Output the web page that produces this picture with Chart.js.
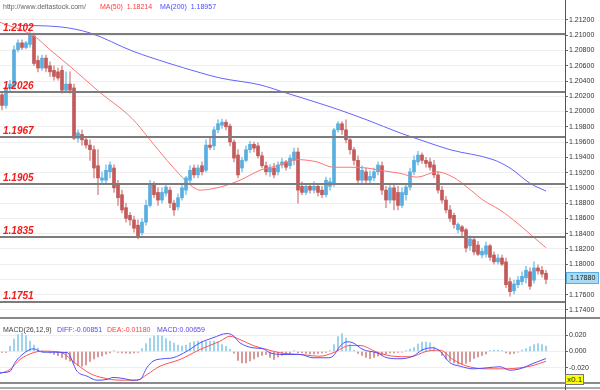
<!DOCTYPE html>
<html>
<head>
<meta charset="utf-8">
<script src="https://cdn.jsdelivr.net/npm/chart.js@4.4.0/dist/chart.umd.min.js"></script>
<style>
  body { margin:0; background:#fff; width:600px; height:390px; overflow:hidden; position:relative; font-family:"Liberation Sans", Arial, sans-serif; }
  canvas { position:absolute; left:0; }
  #main { top:0; }
  #macd { top:320px; }
  .sep { position:absolute; left:0; width:600px; height:2px; }
  #vline { position:absolute; left:565px; top:0; width:1px; height:390px; background:#555; }
  #xbox { position:absolute; left:565px; top:374px; height:9px; line-height:9px; padding:0 1px; font-size:8px; background:#ffff00; border:1px solid #777; color:#222; }
</style>
</head>
<body>
<canvas id="main" width="600" height="318"></canvas>
<canvas id="macd" width="600" height="63"></canvas>
<div class="sep" style="top:317px;background:#888"></div>
<div class="sep" style="top:382px;background:#8a8a8a"></div>
<div class="sep" style="top:387px;background:#aaa"></div>
<div id="vline"></div>
<div id="xbox">x0.1</div>
<script>
// EUR/USD candles, one per slot
var opens = [1.2022,1.2008,1.2031,1.2033,1.2081,1.2090,1.2084,1.2088,1.2099,1.2067,
  1.2057,1.2070,1.2060,1.2054,1.2052,1.2054,1.2028,1.2036,1.2031,1.1965,
  1.1970,1.1963,1.1956,1.1950,1.1929,1.1910,1.1910,1.1921,1.1926,1.1904,
  1.1891,1.1874,1.1864,1.1858,1.1851,1.1841,1.1855,1.1877,1.1904,1.1894,
  1.1884,1.1893,1.1897,1.1880,1.1875,1.1887,1.1897,1.1910,1.1926,1.1917,
  1.1929,1.1923,1.1956,1.1955,1.1976,1.1982,1.1986,1.1981,1.1960,1.1943,
  1.1926,1.1936,1.1950,1.1957,1.1955,1.1942,1.1929,1.1921,1.1926,1.1921,
  1.1930,1.1934,1.1929,1.1936,1.1947,1.1902,1.1894,1.1902,1.1897,1.1902,
  1.1897,1.1891,1.1902,1.1906,1.1976,1.1984,1.1976,1.1963,1.1950,1.1936,
  1.1910,1.1921,1.1910,1.1913,1.1921,1.1929,1.1897,1.1884,1.1900,1.1894,
  1.1877,1.1891,1.1901,1.1921,1.1934,1.1943,1.1936,1.1934,1.1930,1.1917,
  1.1897,1.1884,1.1871,1.1864,1.1845,1.1849,1.1845,1.1824,1.1832,1.1825,
  1.1812,1.1813,1.1824,1.1812,1.1803,1.1808,1.1803,1.1777,1.1765,1.1773,
  1.1777,1.1782,1.1790,1.1779,1.1795,1.1792,1.1788];
var closes = [1.2008,1.2031,1.2036,1.2081,1.2090,1.2084,1.2090,1.2100,1.2063,1.2057,
  1.2070,1.2057,1.2052,1.2046,1.2044,1.2028,1.2036,1.2028,1.1965,1.1972,
  1.1963,1.1956,1.1950,1.1926,1.1913,1.1913,1.1923,1.1930,1.1900,1.1887,
  1.1871,1.1860,1.1858,1.1847,1.1837,1.1855,1.1877,1.1905,1.1891,1.1884,
  1.1894,1.1901,1.1880,1.1871,1.1887,1.1900,1.1913,1.1923,1.1917,1.1926,
  1.1921,1.1956,1.1953,1.1976,1.1984,1.1986,1.1980,1.1960,1.1939,1.1917,
  1.1936,1.1950,1.1957,1.1952,1.1942,1.1929,1.1921,1.1926,1.1917,1.1930,
  1.1934,1.1927,1.1939,1.1947,1.1897,1.1894,1.1902,1.1897,1.1902,1.1894,
  1.1891,1.1910,1.1908,1.1976,1.1984,1.1976,1.1963,1.1950,1.1936,1.1910,
  1.1923,1.1910,1.1915,1.1921,1.1930,1.1897,1.1884,1.1900,1.1884,1.1877,
  1.1894,1.1901,1.1921,1.1936,1.1943,1.1936,1.1932,1.1927,1.1917,1.1897,
  1.1884,1.1871,1.1860,1.1852,1.1852,1.1843,1.1821,1.1833,1.1816,1.1813,
  1.1817,1.1824,1.1809,1.1803,1.1808,1.1800,1.1773,1.1764,1.1774,1.1779,
  1.1784,1.1792,1.1771,1.1795,1.1791,1.1787,1.1780];
var highs = [1.2026,1.2035,1.2041,1.2086,1.2094,1.2094,1.2092,1.2105,1.2103,1.2073,
  1.2074,1.2074,1.2065,1.2060,1.2057,1.2060,1.2052,1.2052,1.2036,1.1976,
  1.1976,1.1967,1.1963,1.1955,1.1950,1.1921,1.1930,1.1934,1.1930,1.1910,
  1.1897,1.1880,1.1868,1.1863,1.1858,1.1860,1.1884,1.1910,1.1908,1.1900,
  1.1900,1.1906,1.1901,1.1884,1.1892,1.1906,1.1915,1.1929,1.1930,1.1930,
  1.1934,1.1963,1.1965,1.1980,1.1989,1.1990,1.1989,1.1984,1.1963,1.1950,
  1.1940,1.1955,1.1961,1.1960,1.1959,1.1947,1.1934,1.1930,1.1932,1.1934,
  1.1939,1.1936,1.1943,1.1952,1.1952,1.1908,1.1906,1.1906,1.1908,1.1906,
  1.1902,1.1914,1.1913,1.1978,1.1987,1.1987,1.1989,1.1967,1.1953,1.1942,
  1.1929,1.1926,1.1922,1.1926,1.1934,1.1934,1.1902,1.1905,1.1904,1.1902,
  1.1900,1.1905,1.1926,1.1942,1.1948,1.1946,1.1940,1.1939,1.1936,1.1921,
  1.1902,1.1889,1.1877,1.1867,1.1854,1.1851,1.1847,1.1837,1.1834,1.1830,
  1.1821,1.1829,1.1826,1.1816,1.1813,1.1812,1.1808,1.1782,1.1779,1.1784,
  1.1790,1.1797,1.1795,1.1803,1.1799,1.1797,1.1792];
var lows = [1.2002,1.2004,1.2026,1.2031,1.2078,1.2081,1.2082,1.2084,1.2060,1.2052,
  1.2054,1.2052,1.2046,1.2041,1.2041,1.2024,1.2026,1.2024,1.1963,1.1960,
  1.1956,1.1952,1.1936,1.1913,1.1891,1.1904,1.1906,1.1913,1.1894,1.1877,
  1.1867,1.1855,1.1851,1.1842,1.1833,1.1838,1.1851,1.1875,1.1887,1.1877,
  1.1880,1.1889,1.1874,1.1864,1.1871,1.1884,1.1891,1.1906,1.1913,1.1913,
  1.1917,1.1921,1.1950,1.1950,1.1972,1.1978,1.1976,1.1955,1.1934,1.1913,
  1.1921,1.1934,1.1946,1.1947,1.1939,1.1926,1.1917,1.1915,1.1913,1.1917,
  1.1926,1.1923,1.1925,1.1930,1.1880,1.1891,1.1891,1.1893,1.1893,1.1889,
  1.1887,1.1888,1.1897,1.1902,1.1973,1.1970,1.1959,1.1944,1.1930,1.1906,
  1.1906,1.1906,1.1906,1.1909,1.1917,1.1891,1.1874,1.1880,1.1871,1.1871,
  1.1874,1.1884,1.1897,1.1917,1.1930,1.1932,1.1927,1.1923,1.1913,1.1893,
  1.1880,1.1867,1.1856,1.1847,1.1841,1.1837,1.1816,1.1818,1.1812,1.1811,
  1.1808,1.1809,1.1805,1.1800,1.1800,1.1798,1.1769,1.1758,1.1761,1.1769,
  1.1773,1.1775,1.1767,1.1775,1.1787,1.1783,1.1774];

// moving averages (slot, price)
var ma50X = [-0.5,8.25,12,17.5,24.5,32.5,37,41.25,44.5,47,49.5,54.5,59.5,64.5,69.5,73.75,78.75,82.75,87,91.25,94.5,99.5,103.75,108.75,112.75,116.25,120.25,124.5,128.75,132.75,136];
var ma50Y = [1.2117,1.2098,1.2081,1.2057,1.2025,1.1991,1.1963,1.1936,1.1917,1.1904,1.1897,1.1901,1.1910,1.1923,1.1930,1.1937,1.1934,1.1927,1.1927,1.1926,1.1923,1.1919,1.1914,1.1921,1.1914,1.1901,1.1884,1.1871,1.1854,1.1836,1.18214];
var ma200X = [4,14.5,22,32.75,41.25,49.5,54.5,64.5,71.25,82.75,91.25,99.5,104.5,112,122.75,127,132,136];
var ma200Y = [1.2113,1.2111,1.2103,1.2079,1.2064,1.2051,1.2044,1.2035,1.2024,1.2005,1.1989,1.1972,1.1963,1.1950,1.1937,1.1926,1.1906,1.18957];

// MACD(26,12,9)
var diffX = [-0.5,2,3.25,5,7,7.75,10.25,16.25,18.75,21.25,23.75,26.25,27.75,30.25,32.75,34.5,36.25,37.75,40.25,42.75,46.25,49.5,52.75,56.25,57.75,59.5,62.75,65.25,67,70.25,74.5,77.75,81.25,82.75,84.5,86.25,87.75,90.25,93.75,96.25,99.5,102.75,105.25,107.75,109.5,112,114.5,117.75,121.25,124.5,127,129.5,132.75,136];
var diffY = [-0.0258,-0.0240,-0.0133,-0.0040,0.0024,0.0033,-0.0008,-0.0012,-0.0239,-0.0299,-0.0348,-0.0339,-0.0315,-0.0327,-0.0348,-0.0339,-0.0194,-0.0118,-0.0088,-0.0076,0.0004,0.0105,0.0166,0.0218,0.0194,0.0105,0.0045,0.0033,-0.0016,-0.0036,-0.0036,-0.0076,-0.0076,-0.0057,0.0064,0.0118,0.0105,0.0024,-0.0016,-0.0076,-0.0088,-0.0057,0.0024,0.0045,0.0004,-0.0137,-0.0178,-0.0210,-0.0198,-0.0185,-0.0227,-0.0210,-0.0145,-0.00851];
var deaX = [-0.5,2,4.5,7.75,10.25,14.5,18.75,22,25.25,29.5,33.75,36.25,39.5,44.5,49.5,54.5,57,59.5,62.75,66.25,69.5,74.5,79.5,82.75,87,89.5,93.75,97.75,102,106.25,109.5,112.75,116.25,121.25,126.25,129.5,132.75,136];
var deaY = [-0.0267,-0.0218,-0.0097,-0.0016,0.0004,-0.0008,-0.0158,-0.0267,-0.0319,-0.0348,-0.0348,-0.0279,-0.0178,-0.0097,0.0024,0.0125,0.0185,0.0145,0.0073,0.0024,-0.0016,-0.0036,-0.0057,-0.0016,0.0073,0.0073,-0.0008,-0.0057,-0.0064,0.0004,0.0016,-0.0097,-0.0178,-0.0210,-0.0210,-0.0198,-0.0170,-0.0118];
var macdHist = [-0.0010,-0.0010,0.0064,0.0150,0.0206,0.0224,0.0194,0.0125,0.0079,0.0042,
  0.0012,-0.0006,-0.0016,-0.0036,-0.0052,-0.0073,-0.0097,-0.0118,-0.0145,-0.0170,
  -0.0178,-0.0164,-0.0121,-0.0091,-0.0067,-0.0055,-0.0030,-0.0016,0.0012,-0.0012,
  -0.0018,-0.0021,-0.0024,-0.0018,-0.0012,0.0036,0.0097,0.0164,0.0188,0.0194,
  0.0188,0.0158,0.0125,0.0103,0.0079,0.0067,0.0079,0.0105,0.0121,0.0125,
  0.0125,0.0121,0.0127,0.0125,0.0115,0.0085,0.0064,0.0030,-0.0020,-0.0109,
  -0.0137,-0.0137,-0.0115,-0.0091,-0.0067,-0.0048,-0.0036,-0.0073,-0.0097,-0.0067,
  -0.0048,-0.0036,-0.0024,0.0012,-0.0016,-0.0018,-0.0024,-0.0030,-0.0030,-0.0024,
  -0.0018,-0.0012,0.0012,0.0085,0.0182,0.0218,0.0164,0.0085,0.0018,-0.0024,
  -0.0048,-0.0073,-0.0088,-0.0073,-0.0055,-0.0040,-0.0030,-0.0016,-0.0016,-0.0012,
  -0.0008,0.0012,0.0030,0.0048,0.0091,0.0115,0.0115,0.0105,0.0055,0.0018,
  -0.0048,-0.0091,-0.0115,-0.0139,-0.0155,-0.0158,-0.0145,-0.0121,-0.0085,-0.0067,
  -0.0048,-0.0030,0.0012,0.0018,0.0018,0.0012,-0.0018,-0.0028,-0.0024,-0.0008,
  0.0018,0.0036,0.0061,0.0085,0.0097,0.0085,0.00659];

var priceTicks = [1.174,1.176,1.178,1.180,1.182,1.184,1.186,1.188,1.190,1.192,1.194,1.196,1.198,1.200,1.202,1.204,1.206,1.208,1.210,1.212];
var macdTicks = [-0.02,0,0.02];
var levels = [1.2102,1.2026,1.1967,1.1905,1.1835,1.1751];
var lastPriceText = '1.17880';

var upBody = '#58aee0', upWick = '#8ecbec', downBody = '#c35959', downWick = '#dc9c9c';
var fnt = '"Liberation Sans", Arial, sans-serif';

function isUp(i) { return closes[i] >= opens[i]; }

var xScale = { type:'linear', min:-0.5, max:140.75, display:false, offset:false };

function rightAxis(min, max, tickVals, digits) {
  return {
    position:'right', min:min, max:max,
    afterBuildTicks: function(s) { s.ticks = tickVals.map(function(v){ return {value:v}; }); },
    afterFit: function(s) { s.width = 35; s.paddingTop = 0; s.paddingBottom = 0; },
    ticks: { callback: function(v){ return Number(v).toFixed(digits); }, font:{ size:7, family:fnt }, color:'#333', padding:1 },
    grid: { color:'#efefef', tickColor:'#666', tickLength:3 },
    border: { color:'#555' }
  };
}

var levelPlugin = {
  id:'levels',
  afterDatasetsDraw: function(chart) {
    var ctx = chart.ctx, a = chart.chartArea, y = chart.scales.y;
    ctx.save();
    levels.forEach(function(v) {
      var py = Math.round(y.getPixelForValue(v));
      ctx.fillStyle = '#7c7c7c';
      ctx.fillRect(a.left, py - 1, a.right - a.left, 2);
      ctx.font = 'italic bold 10px ' + fnt;
      ctx.fillStyle = '#ee1c1c';
      ctx.textBaseline = 'alphabetic';
      ctx.fillText(v.toFixed(4), 3, py - 3);
    });
    ctx.restore();
  },
  afterDraw: function(chart) {
    var ctx = chart.ctx, y = chart.scales.y;
    ctx.save();
    ctx.font = '7px ' + fnt;
    ctx.textBaseline = 'alphabetic';
    ctx.fillStyle = '#666';
    ctx.fillText('http://www.deltastock.com/', 3, 9);
    ctx.fillStyle = '#ff3c3c';
    ctx.fillText('MA(50)  ' + ma50Y[ma50Y.length - 1].toFixed(5), 100, 9);
    ctx.fillStyle = '#4a4aff';
    ctx.fillText('MA(200)  ' + ma200Y[ma200Y.length - 1].toFixed(5), 160, 9);
    // last price box
    var py = Math.round(y.getPixelForValue(1.1782));
    ctx.fillStyle = '#a9daf3';
    ctx.fillRect(566, py - 6, 33, 12);
    ctx.strokeStyle = '#5aaee0';
    ctx.strokeRect(566.5, py - 5.5, 32, 11);
    ctx.fillStyle = '#222';
    ctx.font = '7px ' + fnt;
    ctx.textBaseline = 'middle';
    ctx.fillText(lastPriceText, 570, py + 0.5);
    ctx.restore();
  }
};

new Chart(document.getElementById('main'), {
  type:'bar',
  data: {
    datasets: [
      { type:'line', data: ma50X.map(function(x,k){ return {x:x, y:ma50Y[k]}; }), borderColor:'#ff7676', borderWidth:1, pointRadius:0, cubicInterpolationMode:'monotone', order:0 },
      { type:'line', data: ma200X.map(function(x,k){ return {x:x, y:ma200Y[k]}; }), borderColor:'#6464ff', borderWidth:1, pointRadius:0, cubicInterpolationMode:'monotone', order:0 },
      { data: opens.map(function(o,i){ return {x:i, y:[lows[i], highs[i]]}; }), backgroundColor: opens.map(function(o,i){ return isUp(i) ? upWick : downWick; }), barThickness:1, grouped:false, order:2 },
      { data: opens.map(function(o,i){ return {x:i, y:[o, closes[i]]}; }), backgroundColor: opens.map(function(o,i){ return isUp(i) ? upBody : downBody; }), barThickness:3, minBarLength:1, grouped:false, order:1 }
    ]
  },
  options: {
    responsive:false, animation:false, events:[],
    layout:{ padding:0 },
    plugins:{ legend:{display:false}, tooltip:{enabled:false} },
    scales:{ x:xScale, y:rightAxis(1.17294, 1.21462, priceTicks, 5) }
  },
  plugins:[levelPlugin]
});

var macdText = {
  id:'macdText',
  afterDraw: function(chart) {
    var ctx = chart.ctx;
    ctx.save();
    ctx.font = '7px ' + fnt;
    ctx.textBaseline = 'alphabetic';
    ctx.fillStyle = '#444';
    ctx.fillText('MACD(26,12,9)', 3, 12);
    ctx.fillStyle = '#4a4aff';
    ctx.fillText('DIFF:' + diffY[diffY.length - 1].toFixed(5), 57, 12);
    ctx.fillStyle = '#ff3c3c';
    ctx.fillText('DEA:' + deaY[deaY.length - 1].toFixed(5), 107, 12);
    ctx.fillStyle = '#5a4ae0';
    ctx.fillText('MACD:' + macdHist[macdHist.length - 1].toFixed(5), 157, 12);
    ctx.restore();
  }
};

new Chart(document.getElementById('macd'), {
  type:'bar',
  data: {
    datasets: [
      { type:'line', data: diffX.map(function(x,k){ return {x:x, y:diffY[k]}; }), borderColor:'#5050ff', borderWidth:1, pointRadius:0, cubicInterpolationMode:'monotone', order:0 },
      { type:'line', data: deaX.map(function(x,k){ return {x:x, y:deaY[k]}; }), borderColor:'#ff5252', borderWidth:1, pointRadius:0, cubicInterpolationMode:'monotone', order:0 },
      { data: macdHist.map(function(v,i){ return {x:i, y:v}; }), backgroundColor: macdHist.map(function(v){ return v >= 0 ? '#8ccbea' : '#cf8585'; }), barThickness:1, grouped:false, order:1 }
    ]
  },
  options: {
    responsive:false, animation:false, events:[],
    layout:{ padding:0 },
    plugins:{ legend:{display:false}, tooltip:{enabled:false} },
    scales:{ x:xScale, y:rightAxis(-0.0382, 0.0382, macdTicks, 3) }
  },
  plugins:[macdText]
});
</script>
</body>
</html>
